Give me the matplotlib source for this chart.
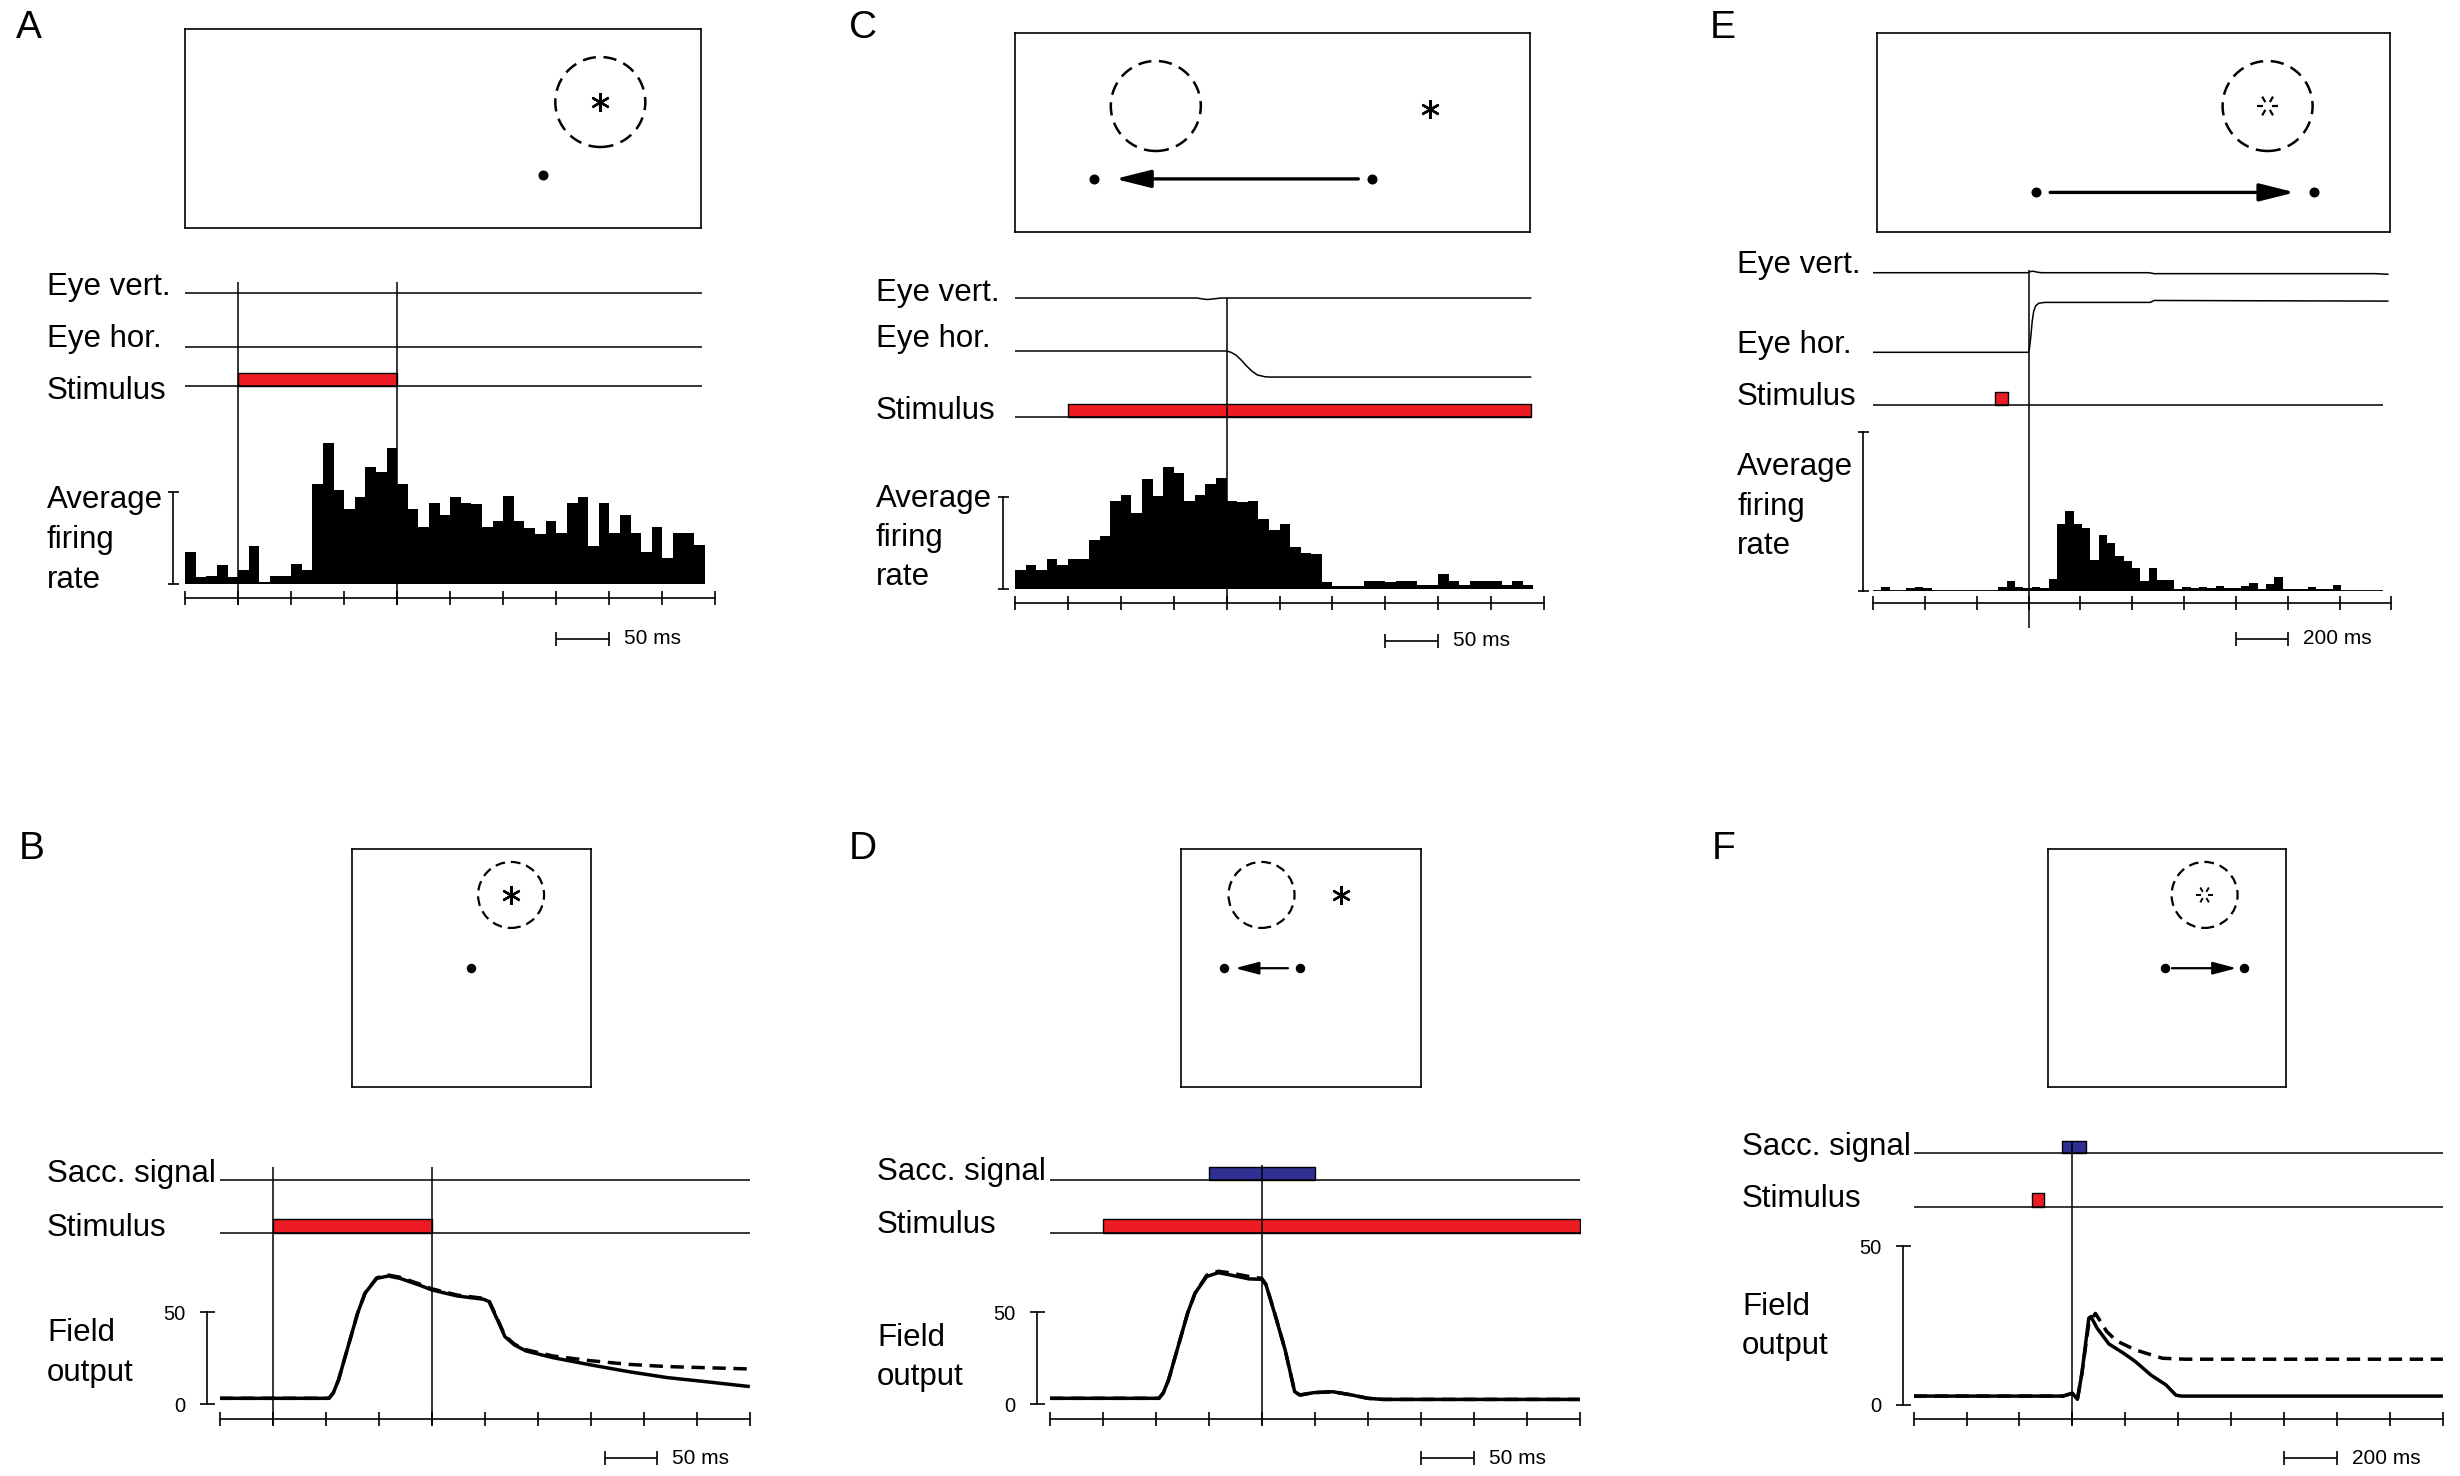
import numpy as np
import matplotlib
matplotlib.use("Agg")
import matplotlib.pyplot as plt
from matplotlib.patches import Circle

plt.rcParams["font.family"] = ["Liberation Sans", "DejaVu Sans"]
plt.rcParams["lines.scale_dashes"] = False
plt.rcParams["lines.solid_capstyle"] = "butt"

W, H, DPI = 2460, 1476, 100
PT = 72.0 / DPI          # points per pixel

RED = "#ED1C24"
BLUE = "#2E3192"
LW = 1.1
LABEL_FS = 22.5
SMALL_FS = 15

# ---------------------------------------------------------------- data
# A: flash inside the receptive field during steady fixation (10 ms bins)
a_bin = 10
a_rate = [35, 8, 9, 21, 8, 15, 41, 2, 9, 9, 22, 15, 109, 153, 102, 82, 95, 127, 122, 148,
          109, 82, 62, 88, 75, 95, 88, 87, 62, 68, 96, 68, 61, 54, 68, 55, 88, 95, 41, 88,
          55, 75, 55, 35, 62, 28, 55, 55, 42]
a_stim = (50, 200)
a_eye_t = [0, 487]
a_eye_v = [0, 0]
a_eye_h = [0, 0]

# C: stimulus in the future field, leftward saccade at 200 ms (10 ms bins)
c_bin = 10
c_rate = [21, 26, 21, 33, 26, 33, 33, 53, 58, 96, 103, 83, 120, 101, 133, 126, 96, 103, 114, 121,
          96, 95, 96, 76, 64, 71, 46, 39, 38, 8, 3, 3, 3, 9, 9, 8, 9, 9, 4, 4,
          16, 9, 4, 9, 9, 9, 4, 9, 4]
c_stim = (50, 488)
c_sacc = 200
c_eyev_t = [0, 172, 178, 182, 188, 195, 488]
c_eyev = [0, 0, -1.3, -1.8, -1.0, 0, 0]
c_eyeh_t = [0, 200, 204, 209, 214, 219, 224, 229, 236, 240, 488]
c_eyeh = [0, 0, -1.5, -5, -11, -18, -24, -28.5, -30.6, -31, -31]

# E: brief flash before a rightward saccade at 600 ms (32 ms bins)
e_bin = 32.25
e_rate = [0, 2.7, 0, 0, 1.7, 2.7, 1.7, 0, 0, 0, 0, 0, 0, 0, 0,
          2.7, 6.3, 2.7, 1.7, 2.7, 2.1, 7.6,
          42.2, 50.4, 42.2, 39.7, 19.5, 35.3, 30.3, 22.1, 18.9, 14.5, 6.3, 14.5, 6.9, 6.9,
          1.3, 2.7, 2.1, 2.7, 2.1, 3.4, 2.1, 2.1, 3.4, 5.0, 1.3, 4.4, 8.8, 1.3, 1.3, 1.3,
          2.5, 1.3, 1.3, 3.8, 0, 0, 0, 0, 0]
e_stim = (471, 522)
e_sacc = 600
e_eyev_t = [0, 598, 606, 618, 635, 650, 1065, 1085, 1940, 1989]
e_eyev = [0, 0, 0.7, 0.9, 0.3, 0, 0, -0.6, -0.6, -1.0]
e_eyeh_t = [0, 600, 604, 609, 614, 620, 628, 640, 664, 1070, 1085, 1500, 1989]
e_eyeh = [0, 0, 3, 10, 19, 25.5, 29, 30.5, 31, 31, 32.2, 32.0, 31.8]

# ---------------------------------------------------------------- model output (bottom row)
b_stim = (50, 200)
b_t = [0, 103, 107, 112, 121, 130, 137, 148, 159, 170, 188, 200, 224, 249, 254, 262,
       269, 278, 289, 314, 350, 386, 422, 458, 500]
b_solid = [3.1, 3.1, 6, 13.1, 31.3, 49.5, 60.4, 68.5, 69.8, 68.5, 64.9, 62.2, 58.9, 57.1,
           55.8, 45.8, 36.7, 32.2, 28.9, 25.3, 21.3, 17.6, 14.4, 12.2, 9.5]
b_dash = [3.1, 3.1, 6, 13.1, 31.3, 49.5, 60.4, 68.8, 70.3, 69.1, 65.5, 62.8, 59.4, 57.6,
          56.3, 46.3, 37.2, 32.6, 29.6, 26.2, 23.6, 21.6, 20.4, 19.8, 19.1]

d_stim = (50, 500)
d_sacc_signal = (150, 250)
d_sacc = 200
d_t = [0, 103, 107, 112, 121, 130, 137, 148, 159, 170, 188, 200, 204, 213, 222, 231, 236,
       249, 267, 285, 300, 314, 500]
d_solid = [3.1, 3.1, 6, 13.1, 31.3, 49.5, 60.4, 69.5, 71.6, 70.4, 68.2, 68.0, 64.9, 47.6,
           29.5, 6.7, 4.9, 6.2, 6.7, 4.9, 3.1, 2.5, 2.5]
d_dash = [3.1, 3.1, 6, 13.1, 31.3, 49.5, 60.4, 70.2, 72.4, 71.5, 69.5, 68.5, 65.2, 47.8,
          29.6, 6.7, 4.9, 6.2, 6.7, 4.9, 3.1, 2.5, 2.5]

f_stim = (447, 491)
f_sacc_signal = (560, 650)
f_sacc = 600
f_t_solid = [0, 564, 600, 619, 636, 662, 670, 694, 738, 795, 839, 897, 954, 991, 1012, 2000]
f_solid = [2.8, 2.8, 3.7, 1.8, 10, 27.3, 27.8, 24.1, 19.2, 16.2, 13.6, 9.4, 6.3, 3.1, 2.8, 2.8]
f_t_dash = [0, 564, 600, 619, 636, 662, 687, 730, 766, 839, 940, 1027, 2000]
f_dash = [2.8, 2.8, 3.7, 1.8, 10, 25.7, 28.8, 23.1, 20.2, 17.3, 14.7, 14.4, 14.4]

# ---------------------------------------------------------------- helpers
fig = plt.figure(figsize=(W / DPI, H / DPI), dpi=DPI)
fig.patch.set_facecolor("white")


def px_axes(x0, y0, x1, y1):
    return fig.add_axes([x0 / W, 1 - y1 / H, (x1 - x0) / W, (y1 - y0) / H])


def ftext(x, y, s, size=LABEL_FS, dy=3, **kw):
    fig.text(x / W, 1 - (y + dy) / H, s, fontsize=size, va="center", ha="left", **kw)


def layer_axes(x0, x1, tmax, y_top, y_bot):
    """Transparent axes: x in ms, y in figure pixel rows (downwards)."""
    ax = px_axes(x0, y_top, x1, y_bot)
    ax.set_xlim(0, tmax)
    ax.set_ylim(y_bot, y_top)
    ax.axis("off")
    ax.patch.set_alpha(0)
    return ax


def signal_axes(x0, x1, tmax, y_base, px_per_unit, ymax, tick_step, bracket,
                left_off, bottom_off, labelled):
    ax = px_axes(x0, y_base - ymax * px_per_unit, x1, y_base)
    ax.set_xlim(0, tmax)
    ax.set_ylim(0, ymax)
    ax.patch.set_alpha(0)
    for s in ("top", "right"):
        ax.spines[s].set_visible(False)
    ax.spines["left"].set_position(("outward", left_off * PT))
    ax.spines["left"].set_bounds(0, bracket)
    ax.spines["bottom"].set_position(("outward", bottom_off * PT))
    ax.spines["bottom"].set_bounds(0, tmax)
    for s in ("left", "bottom"):
        ax.spines[s].set_linewidth(1.2)
    ax.set_xticks(np.arange(0, tmax + 1e-6, tick_step))
    ax.set_xticklabels([])
    ax.tick_params(axis="x", direction="inout", length=14 * PT, width=1.2)
    ax.set_yticks([0, bracket])
    if labelled:
        ax.set_yticklabels(["0", str(bracket)], fontsize=14.5)
        ax.tick_params(axis="y", direction="inout", length=15 * PT, width=1.2, pad=10)
    else:
        ax.set_yticklabels([])
        ax.tick_params(axis="y", direction="inout", length=11 * PT, width=1.2)
    return ax


def box_axes(x0, y0, x1, y1, px_per_deg):
    ax = px_axes(x0, y0, x1, y1)
    ax.set_xlim(0, (x1 - x0) / px_per_deg)
    ax.set_ylim(0, (y1 - y0) / px_per_deg)
    ax.set_xticks([])
    ax.set_yticks([])
    for s in ax.spines.values():
        s.set_linewidth(1.2)
    return ax


def field(ax, center, r, lw, dash):
    ax.add_patch(Circle(center, r, fill=False, lw=lw, ls=(0, dash), ec="k"))


def asterisk(ax, pos, size=13.5):
    ax.plot([pos[0]], [pos[1]], marker=(6, 2, 0), ms=size, mew=1.7, color="k")


def hollow_star(ax, pos, r_in, r_out, lw=1.6):
    for ang in np.deg2rad(np.arange(0, 360, 60)):
        ax.plot([pos[0] + r_in * np.cos(ang), pos[0] + r_out * np.cos(ang)],
                [pos[1] + r_in * np.sin(ang), pos[1] + r_out * np.sin(ang)],
                color="k", lw=lw, solid_capstyle="butt")


def fixation(ax, pos, ms=6.2):
    ax.plot([pos[0]], [pos[1]], "o", ms=ms, color="k")


def saccade_arrow(ax, start, end, lw, ms, hl, hw, sa, sb):
    ax.annotate("", xy=end, xytext=start,
                arrowprops=dict(arrowstyle=f"-|>,head_length={hl},head_width={hw}",
                                lw=lw, color="k", mutation_scale=ms,
                                shrinkA=sa, shrinkB=sb))


def stim_row(ax, y, t_end, on_off, color, bar_px=13.3):
    ax.hlines(y, 0, t_end, color="k", lw=LW)
    ax.broken_barh([(on_off[0], on_off[1] - on_off[0])], (y - bar_px, bar_px),
                   facecolors=color, edgecolors="k", linewidth=1.0)


def scale_bar(ax, t0, t1, y, text):
    ax.plot([t0, t1], [y, y], color="k", lw=1.2)
    ax.vlines([t0, t1], y - 7, y + 7, color="k", lw=1.2)
    ax.annotate(text, (t1, y), xytext=(15 * PT, 0), textcoords="offset points",
                va="center", ha="left", fontsize=SMALL_FS)


def histogram(ax, rates, width):
    edges = np.arange(len(rates)) * width
    ax.bar(edges, rates, width=width, align="edge", color="k", lw=0)


TOP_DASH = (9.5, 5.5)
BOT_DASH = (7.0, 4.3)

# ================================================================ panel A
ftext(16, 28, "A", size=28, dy=0)
bx = box_axes(184.5, 29, 701, 228, 9)
field(bx, (46.2, 14.0), 5, 1.8, TOP_DASH)
asterisk(bx, (46.2, 14.0))
fixation(bx, (39.8, 5.9))

ha = signal_axes(185.1, 715.4, 500, 584, 0.92, 160, 50, 100, 12.3, 14, False)
histogram(ha, a_rate, a_bin)
la = layer_axes(185.1, 715.4, 500, 240, 660)
la.plot(a_eye_t, 293 - np.array(a_eye_v), color="k", lw=LW)
la.plot(a_eye_t, 347 - np.array(a_eye_h), color="k", lw=LW)
stim_row(la, 386, 487, a_stim, RED)
la.vlines(list(a_stim), 282, 605, color="k", lw=LW)
scale_bar(la, 350, 400, 639, "50 ms")
ftext(47, 284, "Eye vert.")
ftext(47, 336, "Eye hor.")
ftext(47, 388, "Stimulus")
ftext(47, 497, "Average")
ftext(47, 537, "firing")
ftext(47, 577, "rate")

# ================================================================ panel C
ftext(849, 28, "C", size=28, dy=0)
bx = box_axes(1014.5, 33, 1530, 232, 9)
field(bx, (15.7, 14.0), 5, 1.8, TOP_DASH)
asterisk(bx, (46.2, 13.7))
fixation(bx, (39.7, 5.9))
fixation(bx, (8.8, 5.9))
saccade_arrow(bx, (39.7, 5.9), (8.8, 5.9), 2.4, 20, 1.08, 0.27, 9.7, 15.5)

hc = signal_axes(1015, 1544, 500, 589, 0.917, 140, 50, 100, 12, 14, False)
histogram(hc, c_rate, c_bin)
lc = layer_axes(1015, 1544, 500, 240, 660)
gain_c = 0.84
lc.plot(c_eyev_t, 298 - gain_c * np.array(c_eyev), color="k", lw=LW)
lc.plot(c_eyeh_t, 351 - gain_c * np.array(c_eyeh), color="k", lw=LW)
stim_row(lc, 417, 488, c_stim, RED)
lc.vlines([c_sacc], 298, 603, color="k", lw=LW)
scale_bar(lc, 350, 400, 641, "50 ms")
ftext(876, 290, "Eye vert.")
ftext(876, 336, "Eye hor.")
ftext(876, 408, "Stimulus")
ftext(876, 496, "Average")
ftext(876, 535, "firing")
ftext(876, 574, "rate")

# ================================================================ panel E
ftext(1710, 28, "E", size=28, dy=0)
bx = box_axes(1877, 33, 2390, 232, 9)
field(bx, (43.4, 14.0), 5, 1.8, TOP_DASH)
hollow_star(bx, (43.4, 14.0), 0.5, 1.2)
fixation(bx, (17.7, 4.4))
fixation(bx, (48.6, 4.4))
saccade_arrow(bx, (17.7, 4.4), (48.6, 4.4), 2.4, 20, 1.08, 0.27, 10, 14)

he = signal_axes(1873, 2391.4, 2000, 591, 1.59, 100, 200, 100, 10, 11.7, False)
histogram(he, e_rate, e_bin)
he.hlines(0, 0, len(e_rate) * e_bin, color="k", lw=1.3)
le = layer_axes(1873, 2391.4, 2000, 240, 660)
gain_e = 1.61
le.plot(e_eyev_t, 272.7 - gain_e * np.array(e_eyev), color="k", lw=LW)
le.plot(e_eyeh_t, 352.3 - gain_e * np.array(e_eyeh), color="k", lw=LW)
stim_row(le, 405, 1968, e_stim, RED)
le.vlines([e_sacc], 270, 628, color="k", lw=LW)
scale_bar(le, 1400, 1600, 639, "200 ms")
ftext(1737, 262, "Eye vert.")
ftext(1737, 342, "Eye hor.")
ftext(1737, 394, "Stimulus")
ftext(1737, 464, "Average")
ftext(1737, 504, "firing")
ftext(1737, 543, "rate")

# ================================================================ panel B
ftext(19, 849, "B", size=28, dy=0)
bx = box_axes(352, 849, 591, 1087, 6.6)
field(bx, (24.1, 29.1), 5, 1.6, BOT_DASH)
asterisk(bx, (24.1, 29.1))
fixation(bx, (18.1, 18.0), ms=5.8)

fb = signal_axes(219.8, 749.8, 500, 1404, 1.834, 80, 50, 50, 12.8, 15, True)
fb.plot(b_t, b_dash, color="k", lw=2.5, ls=(0, (9.6, 5.5)))
fb.plot(b_t, b_solid, color="k", lw=2.5)
lb = layer_axes(219.8, 749.8, 500, 1100, 1476)
lb.hlines(1180, 0, 500, color="k", lw=LW)
stim_row(lb, 1232.7, 500, b_stim, RED)
lb.vlines(list(b_stim), 1167, 1425, color="k", lw=LW)
scale_bar(lb, 363, 412, 1458, "50 ms")
ftext(47, 1171, "Sacc. signal")
ftext(47, 1225, "Stimulus")
ftext(47, 1330, "Field")
ftext(47, 1370, "output")

# ================================================================ panel D
ftext(849, 849, "D", size=28, dy=0)
bx = box_axes(1181, 849, 1421, 1087, 6.6)
field(bx, (12.2, 29.1), 5, 1.6, BOT_DASH)
asterisk(bx, (24.3, 29.1))
fixation(bx, (18.1, 18.0), ms=5.8)
fixation(bx, (6.5, 18.0), ms=5.8)
saccade_arrow(bx, (18.1, 18.0), (6.5, 18.0), 1.6, 10, 1.44, 0.38, 9, 8)

fd = signal_axes(1049.8, 1579.8, 500, 1404, 1.834, 80, 50, 50, 12.8, 15, True)
fd.plot(d_t, d_dash, color="k", lw=2.5, ls=(0, (9.6, 5.5)))
fd.plot(d_t, d_solid, color="k", lw=2.5)
ld = layer_axes(1049.8, 1579.8, 500, 1100, 1476)
stim_row(ld, 1180, 500, d_sacc_signal, BLUE)
stim_row(ld, 1232.7, 500, d_stim, RED)
ld.vlines([d_sacc], 1165, 1425, color="k", lw=LW)
scale_bar(ld, 350, 400, 1458, "50 ms")
ftext(877, 1169, "Sacc. signal")
ftext(877, 1222, "Stimulus")
ftext(877, 1335, "Field")
ftext(877, 1374, "output")

# ================================================================ panel F
ftext(1712, 849, "F", size=28, dy=0)
bx = box_axes(2047.5, 849, 2286, 1087, 6.6)
field(bx, (23.8, 29.1), 5, 1.6, BOT_DASH)
hollow_star(bx, (23.8, 29.1), 0.55, 1.3, lw=1.4)
fixation(bx, (17.8, 18.0), ms=5.8)
fixation(bx, (29.7, 18.0), ms=5.8)
saccade_arrow(bx, (17.8, 18.0), (29.7, 18.0), 1.6, 10, 1.44, 0.38, 5, 5)

ff = signal_axes(1913.6, 2442.9, 2000, 1405, 3.18, 52, 200, 50, 10.6, 14, True)
ff.plot(f_t_dash, f_dash, color="k", lw=2.5, ls=(0, (9.6, 5.5)))
ff.plot(f_t_solid, f_solid, color="k", lw=2.5)
lf = layer_axes(1913.6, 2442.9, 2000, 1100, 1476)
stim_row(lf, 1153.3, 2000, f_sacc_signal, BLUE, bar_px=12.6)
stim_row(lf, 1206.7, 2000, f_stim, RED)
lf.vlines([f_sacc], 1140.7, 1425, color="k", lw=LW)
scale_bar(lf, 1400, 1600, 1458, "200 ms")
ftext(1742, 1144, "Sacc. signal")
ftext(1742, 1196, "Stimulus")
ftext(1742, 1304, "Field")
ftext(1742, 1343, "output")

fig.savefig("out.png", dpi=DPI, facecolor="white")
